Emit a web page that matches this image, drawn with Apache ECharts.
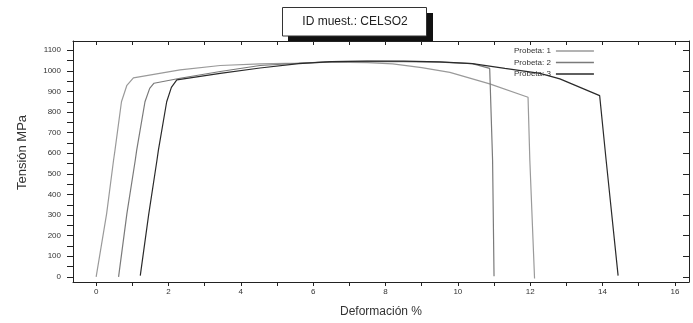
<!DOCTYPE html>
<html>
<head>
<meta charset="utf-8">
<script src="https://cdn.jsdelivr.net/npm/echarts@6/dist/echarts.min.js"></script>
<style>
html,body{margin:0;padding:0;background:#fff;}
#chart{width:693px;height:323px;}
</style>
</head>
<body>
<div id="chart"></div>
<script>
// Series names
var seriesNames = ['Probeta: 1', 'Probeta: 2', 'Probeta: 3'];
// Probeta 1: [deformación %, tensión MPa]
var probeta1 = [[0,0],[0.29,307],[0.48,565],[0.52,614],[0.7,850],[0.85,930],[1.03,966],[2.32,1005],[3.43,1026],[4.53,1034],[5.6,1038],[6.5,1042],[7.5,1040],[8.2,1034],[9.0,1016],[9.78,993],[10.88,937],[11.94,872],[11.99,565],[12.12,-8]];
// Probeta 2
var probeta2 = [[0.62,0],[0.85,307],[1.08,565],[1.12,614],[1.35,850],[1.48,915],[1.6,940],[2.32,964],[3.43,997],[4.53,1026],[5.6,1037],[6.5,1045],[7.5,1046],[8.5,1045],[9.5,1042],[10.4,1035],[10.88,1012],[10.96,565],[11.0,3]];
// Probeta 3
var probeta3 = [[1.22,6],[1.45,300],[1.68,565],[1.72,614],[1.95,850],[2.08,920],[2.23,956],[3.43,988],[4.53,1014],[5.6,1035],[6.5,1045],[7.5,1047],[8.5,1047],[9.5,1044],[10.4,1035],[11.3,1012],[12.27,988],[12.82,961],[13.92,880],[14.1,565],[14.43,6]];
// Tick labels
var xLabels = [0,2,4,6,8,10,12,14,16];
var xTicks = [0,1,2,3,4,5,6,7,8,9,10,11,12,13,14,15,16];
var yLabels = [0,100,200,300,400,500,600,700,800,900,1000,1100];
var yTicks = [0,50,100,150,200,250,300,350,400,450,500,550,600,650,700,750,800,850,900,950,1000,1050,1100];
var titleText = 'ID muest.: CELSO2';
var seriesColors = ['#9a9a9a', '#7a7a7a', '#2a2a2a'];

var chart = echarts.init(document.getElementById('chart'), null, {renderer: 'canvas'});
var xMin = -0.64, xMax = 16.39, yMin = -25, yMax = 1145;
var axisColor = '#222';
var fam = 'Liberation Sans, Arial, sans-serif';

chart.setOption({
  backgroundColor: '#fff',
  animation: false,
  title: {
    text: titleText,
    left: 355, top: 15,
    textAlign: 'center',
    padding: 0,
    textStyle: {fontFamily: fam, fontSize: 12, fontWeight: 'normal', color: '#222', lineHeight: 14}
  },
  graphic: [
    {type: 'rect', shape: {x: 288, y: 13, width: 145, height: 28}, style: {fill: '#111'}, z: 0, silent: true},
    {type: 'rect', shape: {x: 282.5, y: 7.5, width: 144, height: 28.5}, style: {fill: '#fff', stroke: '#333', lineWidth: 1}, z: 1, silent: true}
  ],
  legend: {
    data: seriesNames,
    orient: 'vertical',
    left: 509, top: 42,
    align: 'right',
    itemGap: 3.5,
    itemWidth: 38, itemHeight: 1.5,
    icon: 'rect',
    textStyle: {fontFamily: fam, fontSize: 8, color: '#333', padding: [0, 0, 0, 0]}
  },
  grid: {left: 73, right: 4, top: 41, bottom: 41, containLabel: false},
  xAxis: [{
    type: 'value', position: 'bottom', min: xMin, max: xMax,
    name: 'Deformación %', nameLocation: 'middle', nameGap: 24,
    nameTextStyle: {fontFamily: fam, fontSize: 12, color: '#333'},
    axisLine: {show: true, onZero: false, lineStyle: {color: axisColor, width: 1}},
    axisTick: {show: true, length: 4, customValues: xTicks, lineStyle: {color: axisColor}},
    axisLabel: {customValues: xLabels, margin: 6, fontFamily: fam, fontSize: 8, color: '#333',
      formatter: function (v) { return String(v); }},
    splitLine: {show: false}
  }, {
    type: 'value', position: 'top', min: xMin, max: xMax,
    axisLine: {show: true, onZero: false, lineStyle: {color: axisColor, width: 1}},
    axisTick: {show: true, inside: true, length: 4, customValues: xTicks, lineStyle: {color: axisColor}},
    axisLabel: {show: false},
    splitLine: {show: false}
  }],
  yAxis: [{
    type: 'value', position: 'left', min: yMin, max: yMax,
    name: 'Tensión MPa', nameLocation: 'middle', nameGap: 44,
    nameTextStyle: {fontFamily: fam, fontSize: 13, color: '#333', padding: [0, 0, 0, 18]},
    axisLine: {show: true, onZero: false, lineStyle: {color: axisColor, width: 1}},
    axisTick: {show: true, length: 6, customValues: yTicks, lineStyle: {color: axisColor}},
    axisLabel: {customValues: yLabels, margin: 12, fontFamily: fam, fontSize: 8, color: '#333',
      formatter: function (v) { return String(v); }},
    splitLine: {show: false}
  }, {
    type: 'value', position: 'right', min: yMin, max: yMax,
    axisLine: {show: true, onZero: false, lineStyle: {color: axisColor, width: 1}},
    axisTick: {show: true, inside: true, length: 6, customValues: yLabels, lineStyle: {color: axisColor}},
    axisLabel: {show: false},
    splitLine: {show: false}
  }],
  series: [probeta1, probeta2, probeta3].map(function (d, i) {
    return {
      name: seriesNames[i], type: 'line', data: d,
      xAxisIndex: 0, yAxisIndex: 0,
      showSymbol: false, smooth: false,
      lineStyle: {color: seriesColors[i], width: 1.2},
      itemStyle: {color: seriesColors[i]},
      z: 3 + i
    };
  })
});
</script>
</body>
</html>
